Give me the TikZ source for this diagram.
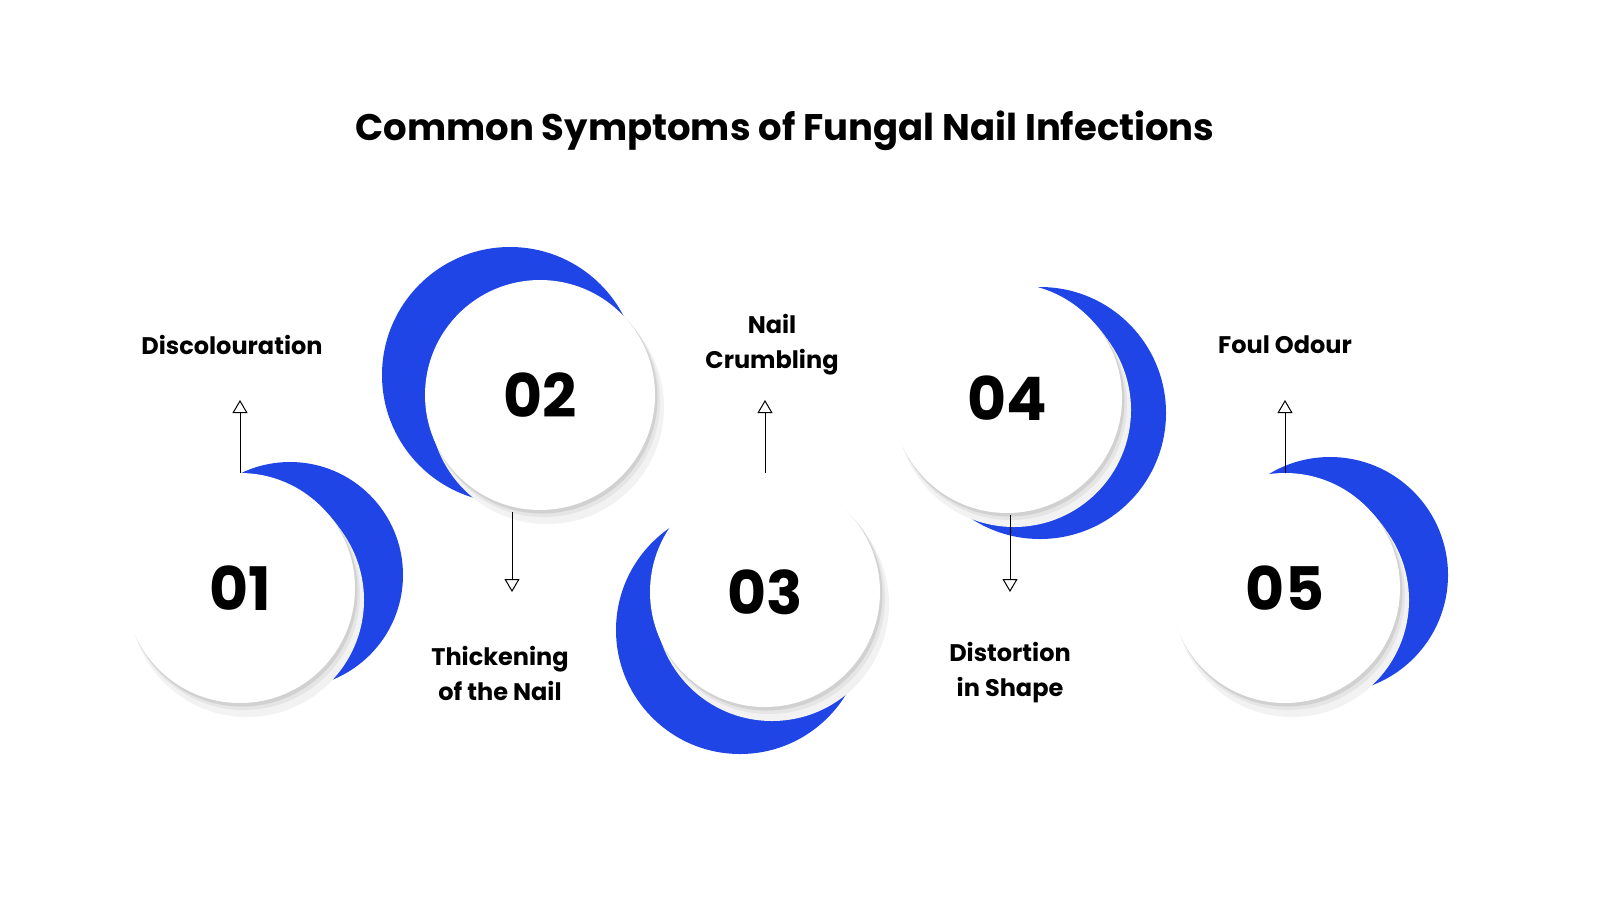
\documentclass[tikz,border=0pt]{standalone}
\usepackage{fontspec}
\setmainfont{Poppins}
\newfontfamily\numfont{Poppins}
\usetikzlibrary{arrows.meta}
\definecolor{bl}{HTML}{1F45E6}
\tikzset{
 wc/.style={circle,fill=white,minimum size=230pt,inner sep=0pt,font=\numfont\bfseries\fontsize{60}{60}\selectfont},
 lab/.style={font=\bfseries\fontsize{24}{35}\selectfont,align=center},
 arr/.style={-{Triangle[open,width=15pt,length=13pt]},line width=1pt,black}
}
\begin{document}
\begin{tikzpicture}[x=1pt,y=-1pt]
\useasboundingbox (0,0) rectangle (1600,900);
\fill[white] (0,0) rectangle (1600,900);
\node[font=\bfseries\fontsize{37}{37}\selectfont] (title) at (785,131) {Common Symptoms of Fungal Nail Infections};
% blue crescents
\fill[bl] (290,575) circle (113);
\fill[bl] (510,375) circle (128);
\fill[bl] (740,630) circle (124);
\fill[bl] (1040,413) circle (126);
\fill[bl] (1330,575) circle (118);
% shadows
\foreach \x/\y in {240/588,540/395,765/592,1007/398,1285/588}{
  \fill[black!5] (\x+7,\y+12) circle (117);
  \fill[black!10] (\x+4,\y+6) circle (116);
  \fill[black!18] (\x+2,\y+3) circle (115.5);
}
\node[wc] (c1) at (240,588) {01};
\node[wc] (c2) at (540,395) {02};
\node[wc] (c3) at (765,592) {03};
\node[wc] (c4) at (1007,398) {04};
\node[wc] (c5) at (1285,588) {05};
% labels
\node[lab] (l1) at (232,345) {Discolouration};
\node[lab] (l2) at (500,673) {Thickening\\of the Nail};
\node[lab] (l3) at (772,345) {Nail\\Crumbling};
\node[lab] (l4) at (1010,673) {Distortion\\in Shape};
\node[lab] (l5) at (1285,345) {Foul Odour};
% arrows
\coordinate (a1) at (240,473); \coordinate (b1) at (240,400);
\coordinate (a2) at (512,512); \coordinate (b2) at (512,592);
\coordinate (a3) at (765,473); \coordinate (b3) at (765,400);
\coordinate (a4) at (1010,515); \coordinate (b4) at (1010,592);
\coordinate (a5) at (1285,473); \coordinate (b5) at (1285,400);
\foreach \i in {1,...,5}{\draw[arr] (a\i) -- (b\i);}
\end{tikzpicture}
\end{document}
